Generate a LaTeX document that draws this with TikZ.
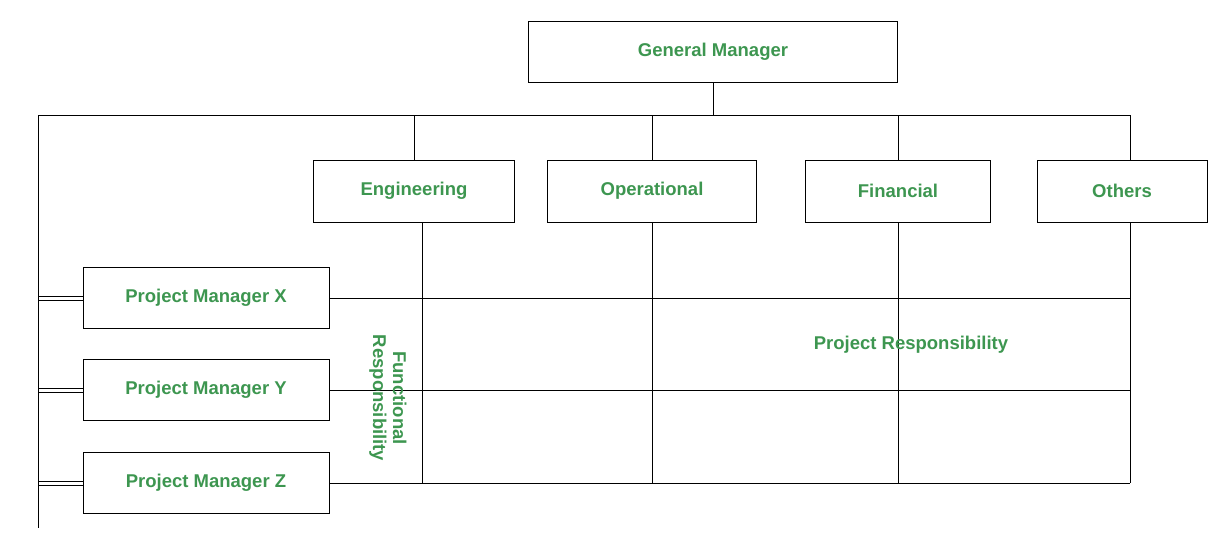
\documentclass[tikz,border=0pt]{standalone}
\usepackage{fontspec}
\setmainfont{Liberation Sans}
\definecolor{txtgreen}{RGB}{61,150,80}
\begin{document}
\begin{tikzpicture}[x=1pt, y=-1pt,
	box/.style={draw, thick, inner sep=0pt, font=\fontsize{18.5}{21}\selectfont\bfseries, text=txtgreen},
	lbl/.style={font=\fontsize{18.5}{20}\selectfont\bfseries, text=txtgreen, align=center}]
	\useasboundingbox (0,0) rectangle (1230,546);
	\normalsize
	% top manager and departments
	\node [box, minimum width=369, minimum height=61] (gm) at (713, 52) {General Manager};
	\node [box, minimum width=201, minimum height=62] (eng) at (414, 191) {Engineering};
	\node [box, minimum width=209, minimum height=62] (ops) at (652, 191) {Operational};
	\node [box, minimum width=185, minimum height=62] (fin) at (898, 191) {Financial};
	\node [box, minimum width=170, minimum height=62] (oth) at (1122, 191) {Others};
	
	% project managers
	\node [box, minimum width=246, minimum height=61] (pmx) at (206, 298) {Project Manager X};
	\node [box, minimum width=246, minimum height=61] (pmy) at (206, 390) {Project Manager Y};
	\node [box, minimum width=246, minimum height=61] (pmz) at (206, 483) {Project Manager Z};
	
	% bus
	\coordinate (busl) at (38, 115);
	\coordinate (busr) at (1130, 115);
	\coordinate (bot) at (38, 528);
	\draw [thick] (gm.south) -- (713, 115);
	\draw [thick] (busl) -- (busr);
	\draw [thick] (busl) -- (bot);
	\draw [thick] (414, 115) -- (eng.north);
	\draw [thick] (652, 115) -- (ops.north);
	\draw [thick] (898, 115) -- (fin.north);
	\draw [thick] (busr) -- (1130, 160);
	
	% grid of responsibility
	\draw [thick] (422, 222) -- (422, 483);
	\draw [thick] (ops.south) -- (652, 483);
	\draw [thick] (fin.south) -- (898, 483);
	\draw [thick] (1130, 222) -- (1130, 483);
	\foreach \n in {pmx, pmy, pmz} {
		\draw [thick] (\n.east) -- (\n.east -| 1130, 0);
		\draw [thick] ([yshift=-2]\n.west) -- ([yshift=-2]\n.west -| busl);
		\draw [thick] ([yshift=2]\n.west) -- ([yshift=2]\n.west -| busl);
	}
	
	\node [lbl, rotate=-90] (func) at (388, 398) {Functional\\Responsibility};
	\node [lbl] (proj) at (911, 345) {Project Responsibility};
\end{tikzpicture}
\end{document}
